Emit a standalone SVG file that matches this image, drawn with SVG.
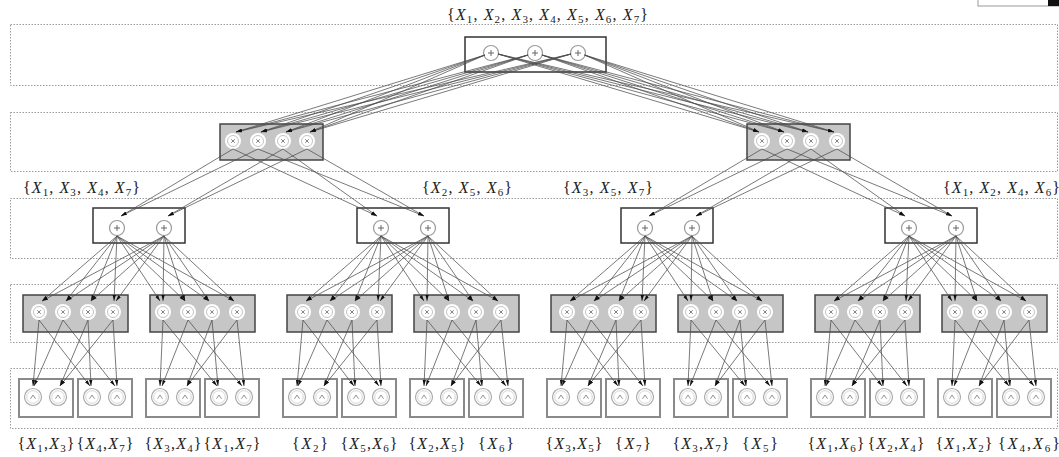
<svg xmlns="http://www.w3.org/2000/svg" width="1059" height="457" viewBox="0 0 1059 457">
<style>
.layer{fill:none;stroke:#9a9a9a;stroke-width:1;stroke-dasharray:1.5 1.5}
.sumbox{fill:#fff;stroke:#333;stroke-width:1.5}
.prodbox{fill:#c6c6c6;stroke:#444;stroke-width:1.5}
.leafbox{fill:#fff;stroke:#8a8a8a;stroke-width:2}
line{stroke:#4d4d4d;stroke-width:0.75;fill:none;marker-end:url(#ah)}
.lb{font-family:"Liberation Serif",serif;font-size:16px;fill:#222}
.v{font-style:italic}
.s{font-size:11px}
</style>
<defs>
<marker id="ah" viewBox="0 0 8 5" refX="8" refY="2.5" markerWidth="6" markerHeight="4" orient="auto" markerUnits="userSpaceOnUse"><path d="M0,0.3 L8,2.5 L0,4.7 Z" fill="#111"/></marker>
<g id="sc"><circle r="7.5" fill="#fff" stroke="#9a9a9a" stroke-width="1.2"/><path d="M-3,0H3M0,-3V3" stroke="#666" stroke-width="1"/></g>
<g id="pc"><circle r="8" fill="#fff"/><circle r="5.5" fill="#fff" stroke="#c4c4c4" stroke-width="1"/><path d="M-1.8,-1.8L1.8,1.8M-1.8,1.8L1.8,-1.8" stroke="#777" stroke-width="0.9"/></g>
<g id="lc"><circle r="8.5" fill="#fff" stroke="#aaa" stroke-width="1.2"/><circle r="6.3" fill="none" stroke="#ccc" stroke-width="0.8"/><path d="M-2.5,1.8L0,-2L2.5,1.8" fill="none" stroke="#888" stroke-width="0.9"/></g>
<g id="sub" stroke="#4d4d4d" stroke-width="0.75" fill="none" marker-end="url(#ah)">
<line x1="117" y1="236" x2="42" y2="301"/><line x1="117" y1="236" x2="66" y2="301"/><line x1="117" y1="236" x2="91" y2="301"/><line x1="117" y1="236" x2="114" y2="301"/>
<line x1="117" y1="236" x2="160" y2="301"/><line x1="117" y1="236" x2="185" y2="301"/><line x1="117" y1="236" x2="209" y2="301"/><line x1="117" y1="236" x2="234" y2="301"/>
<line x1="164" y1="236" x2="42" y2="301"/><line x1="164" y1="236" x2="66" y2="301"/><line x1="164" y1="236" x2="91" y2="301"/><line x1="164" y1="236" x2="116" y2="301"/>
<line x1="164" y1="236" x2="163" y2="301"/><line x1="164" y1="236" x2="185" y2="301"/><line x1="164" y1="236" x2="209" y2="301"/><line x1="164" y1="236" x2="234" y2="301"/>
<line x1="39" y1="320" x2="33" y2="386"/><line x1="39" y1="320" x2="90" y2="386"/>
<line x1="63" y1="320" x2="34" y2="386"/><line x1="63" y1="320" x2="115" y2="386"/>
<line x1="88" y1="320" x2="60" y2="386"/><line x1="88" y1="320" x2="91" y2="386"/>
<line x1="113" y1="320" x2="60" y2="386"/><line x1="113" y1="320" x2="117" y2="386"/>
<line x1="163" y1="320" x2="160" y2="386"/><line x1="163" y1="320" x2="217" y2="386"/>
<line x1="188" y1="320" x2="162" y2="386"/><line x1="188" y1="320" x2="242" y2="386"/>
<line x1="212" y1="320" x2="187" y2="386"/><line x1="212" y1="320" x2="218" y2="386"/>
<line x1="237" y1="320" x2="187" y2="386"/><line x1="237" y1="320" x2="244" y2="386"/>
</g>
</defs>
<rect width="1059" height="457" fill="#fff"/>
<rect x="978" y="-2" width="90" height="8" fill="#fff" stroke="#999"/>
<rect x="1048" y="-2" width="12" height="8" fill="#111"/>
<g id="layers">
<rect class="layer" x="10.5" y="24.5" width="1047" height="61"/>
<rect class="layer" x="10.5" y="112.5" width="1047" height="59"/>
<rect class="layer" x="10.5" y="198.5" width="1047" height="60"/>
<rect class="layer" x="10.5" y="284.5" width="1047" height="58"/>
<rect class="layer" x="10.5" y="368.5" width="1047" height="60"/>
</g>
<g id="n-root"><rect class="sumbox" x="465" y="37" width="141" height="35"/><use href="#sc" x="491" y="53"/><use href="#sc" x="535" y="53"/><use href="#sc" x="578" y="53"/></g>
<g id="n-p2a"><rect class="prodbox" x="220" y="124" width="103" height="36"/><use href="#pc" x="233" y="141"/><use href="#pc" x="258" y="141"/><use href="#pc" x="283" y="141"/><use href="#pc" x="307" y="141"/></g>
<g id="n-p2b"><rect class="prodbox" x="747" y="124" width="103" height="36"/><use href="#pc" x="762" y="141"/><use href="#pc" x="787" y="141"/><use href="#pc" x="811" y="141"/><use href="#pc" x="837" y="141"/></g>
<g id="n-s3a"><rect class="sumbox" x="93" y="208" width="92" height="35"/><use href="#sc" x="117" y="228"/><use href="#sc" x="164" y="228"/></g>
<g id="n-s3b"><rect class="sumbox" x="357" y="208" width="92" height="35"/><use href="#sc" x="381" y="228"/><use href="#sc" x="428" y="228"/></g>
<g id="n-s3c"><rect class="sumbox" x="621" y="208" width="92" height="35"/><use href="#sc" x="645" y="228"/><use href="#sc" x="692" y="228"/></g>
<g id="n-s3d"><rect class="sumbox" x="885" y="208" width="92" height="35"/><use href="#sc" x="909" y="228"/><use href="#sc" x="956" y="228"/></g>
<g id="n-p4a"><rect class="prodbox" x="23" y="295" width="105" height="37"/><use href="#pc" x="39" y="312"/><use href="#pc" x="63" y="312"/><use href="#pc" x="88" y="312"/><use href="#pc" x="113" y="312"/></g>
<g id="n-p4b"><rect class="prodbox" x="150" y="295" width="105" height="37"/><use href="#pc" x="163" y="312"/><use href="#pc" x="188" y="312"/><use href="#pc" x="212" y="312"/><use href="#pc" x="237" y="312"/></g>
<g id="n-p4c"><rect class="prodbox" x="287" y="295" width="105" height="37"/><use href="#pc" x="303" y="312"/><use href="#pc" x="327" y="312"/><use href="#pc" x="352" y="312"/><use href="#pc" x="377" y="312"/></g>
<g id="n-p4d"><rect class="prodbox" x="414" y="295" width="105" height="37"/><use href="#pc" x="427" y="312"/><use href="#pc" x="452" y="312"/><use href="#pc" x="476" y="312"/><use href="#pc" x="501" y="312"/></g>
<g id="n-p4e"><rect class="prodbox" x="551" y="295" width="105" height="37"/><use href="#pc" x="567" y="312"/><use href="#pc" x="591" y="312"/><use href="#pc" x="616" y="312"/><use href="#pc" x="641" y="312"/></g>
<g id="n-p4f"><rect class="prodbox" x="678" y="295" width="105" height="37"/><use href="#pc" x="691" y="312"/><use href="#pc" x="716" y="312"/><use href="#pc" x="740" y="312"/><use href="#pc" x="765" y="312"/></g>
<g id="n-p4g"><rect class="prodbox" x="815" y="295" width="105" height="37"/><use href="#pc" x="831" y="312"/><use href="#pc" x="855" y="312"/><use href="#pc" x="880" y="312"/><use href="#pc" x="905" y="312"/></g>
<g id="n-p4h"><rect class="prodbox" x="942" y="295" width="105" height="37"/><use href="#pc" x="955" y="312"/><use href="#pc" x="980" y="312"/><use href="#pc" x="1004" y="312"/><use href="#pc" x="1029" y="312"/></g>
<g id="n-l01"><rect class="leafbox" x="19" y="379" width="54" height="38"/><use href="#lc" x="33" y="397"/><use href="#lc" x="58" y="397"/></g>
<g id="n-l02"><rect class="leafbox" x="78" y="379" width="54" height="38"/><use href="#lc" x="92" y="397"/><use href="#lc" x="117" y="397"/></g>
<g id="n-l03"><rect class="leafbox" x="146" y="379" width="54" height="38"/><use href="#lc" x="160" y="397"/><use href="#lc" x="185" y="397"/></g>
<g id="n-l04"><rect class="leafbox" x="205" y="379" width="54" height="38"/><use href="#lc" x="219" y="397"/><use href="#lc" x="244" y="397"/></g>
<g id="n-l05"><rect class="leafbox" x="283" y="379" width="54" height="38"/><use href="#lc" x="297" y="397"/><use href="#lc" x="322" y="397"/></g>
<g id="n-l06"><rect class="leafbox" x="342" y="379" width="54" height="38"/><use href="#lc" x="356" y="397"/><use href="#lc" x="381" y="397"/></g>
<g id="n-l07"><rect class="leafbox" x="410" y="379" width="54" height="38"/><use href="#lc" x="424" y="397"/><use href="#lc" x="449" y="397"/></g>
<g id="n-l08"><rect class="leafbox" x="469" y="379" width="54" height="38"/><use href="#lc" x="483" y="397"/><use href="#lc" x="508" y="397"/></g>
<g id="n-l09"><rect class="leafbox" x="547" y="379" width="54" height="38"/><use href="#lc" x="561" y="397"/><use href="#lc" x="586" y="397"/></g>
<g id="n-l10"><rect class="leafbox" x="606" y="379" width="54" height="38"/><use href="#lc" x="620" y="397"/><use href="#lc" x="645" y="397"/></g>
<g id="n-l11"><rect class="leafbox" x="674" y="379" width="54" height="38"/><use href="#lc" x="688" y="397"/><use href="#lc" x="713" y="397"/></g>
<g id="n-l12"><rect class="leafbox" x="733" y="379" width="54" height="38"/><use href="#lc" x="747" y="397"/><use href="#lc" x="772" y="397"/></g>
<g id="n-l13"><rect class="leafbox" x="811" y="379" width="54" height="38"/><use href="#lc" x="825" y="397"/><use href="#lc" x="850" y="397"/></g>
<g id="n-l14"><rect class="leafbox" x="870" y="379" width="54" height="38"/><use href="#lc" x="884" y="397"/><use href="#lc" x="909" y="397"/></g>
<g id="n-l15"><rect class="leafbox" x="938" y="379" width="54" height="38"/><use href="#lc" x="952" y="397"/><use href="#lc" x="977" y="397"/></g>
<g id="n-l16"><rect class="leafbox" x="997" y="379" width="54" height="38"/><use href="#lc" x="1011" y="397"/><use href="#lc" x="1036" y="397"/></g>
<g id="connectors">
<line x1="485" y1="55" x2="236" y2="132"/><line x1="485" y1="55" x2="261" y2="132"/><line x1="485" y1="55" x2="286" y2="132"/><line x1="485" y1="55" x2="310" y2="132"/>
<line x1="498" y1="54" x2="759" y2="132"/><line x1="498" y1="54" x2="784" y2="132"/><line x1="498" y1="54" x2="808" y2="132"/><line x1="498" y1="54" x2="834" y2="132"/>
<line x1="528" y1="55" x2="236" y2="132"/><line x1="528" y1="55" x2="261" y2="132"/><line x1="528" y1="55" x2="286" y2="132"/><line x1="528" y1="55" x2="310" y2="132"/>
<line x1="542" y1="55" x2="759" y2="132"/><line x1="542" y1="55" x2="784" y2="132"/><line x1="542" y1="55" x2="808" y2="132"/><line x1="542" y1="55" x2="834" y2="132"/>
<line x1="571" y1="54" x2="236" y2="132"/><line x1="571" y1="54" x2="261" y2="132"/><line x1="571" y1="54" x2="286" y2="132"/><line x1="571" y1="54" x2="310" y2="132"/>
<line x1="584.5" y1="55" x2="759" y2="132"/><line x1="584.5" y1="55" x2="784" y2="132"/><line x1="584.5" y1="55" x2="808" y2="132"/><line x1="584.5" y1="55" x2="834" y2="132"/>
<line x1="233" y1="149" x2="121" y2="216"/><line x1="233" y1="149" x2="377" y2="216"/>
<line x1="258" y1="149" x2="121" y2="216"/><line x1="258" y1="149" x2="424" y2="216"/>
<line x1="283" y1="149" x2="168" y2="216"/><line x1="283" y1="149" x2="377" y2="216"/>
<line x1="307" y1="149" x2="168" y2="216"/><line x1="307" y1="149" x2="424" y2="216"/>
<line x1="762" y1="149" x2="649" y2="216"/><line x1="762" y1="149" x2="905" y2="216"/>
<line x1="787" y1="149" x2="649" y2="216"/><line x1="787" y1="149" x2="952" y2="216"/>
<line x1="811" y1="149" x2="696" y2="216"/><line x1="811" y1="149" x2="905" y2="216"/>
<line x1="837" y1="149" x2="696" y2="216"/><line x1="837" y1="149" x2="952" y2="216"/>
<use href="#sub" x="0" y="0"/>
<use href="#sub" x="264" y="0"/>
<use href="#sub" x="528" y="0"/>
<use href="#sub" x="792" y="0"/>
</g>
<g id="labels">
<text class="lb" x="447" y="20" textLength="201">{<tspan class="v">X</tspan><tspan class="s" dy="3">1</tspan><tspan dy="-3">, </tspan><tspan class="v">X</tspan><tspan class="s" dy="3">2</tspan><tspan dy="-3">, </tspan><tspan class="v">X</tspan><tspan class="s" dy="3">3</tspan><tspan dy="-3">, </tspan><tspan class="v">X</tspan><tspan class="s" dy="3">4</tspan><tspan dy="-3">, </tspan><tspan class="v">X</tspan><tspan class="s" dy="3">5</tspan><tspan dy="-3">, </tspan><tspan class="v">X</tspan><tspan class="s" dy="3">6</tspan><tspan dy="-3">, </tspan><tspan class="v">X</tspan><tspan class="s" dy="3">7</tspan><tspan dy="-3">}</tspan></text>
<text class="lb" x="23" y="193" textLength="117">{<tspan class="v">X</tspan><tspan class="s" dy="3">1</tspan><tspan dy="-3">, </tspan><tspan class="v">X</tspan><tspan class="s" dy="3">3</tspan><tspan dy="-3">, </tspan><tspan class="v">X</tspan><tspan class="s" dy="3">4</tspan><tspan dy="-3">, </tspan><tspan class="v">X</tspan><tspan class="s" dy="3">7</tspan><tspan dy="-3">}</tspan></text>
<text class="lb" x="422" y="193" textLength="90">{<tspan class="v">X</tspan><tspan class="s" dy="3">2</tspan><tspan dy="-3">, </tspan><tspan class="v">X</tspan><tspan class="s" dy="3">5</tspan><tspan dy="-3">, </tspan><tspan class="v">X</tspan><tspan class="s" dy="3">6</tspan><tspan dy="-3">}</tspan></text>
<text class="lb" x="563" y="193" textLength="90">{<tspan class="v">X</tspan><tspan class="s" dy="3">3</tspan><tspan dy="-3">, </tspan><tspan class="v">X</tspan><tspan class="s" dy="3">5</tspan><tspan dy="-3">, </tspan><tspan class="v">X</tspan><tspan class="s" dy="3">7</tspan><tspan dy="-3">}</tspan></text>
<text class="lb" x="943" y="193" textLength="117">{<tspan class="v">X</tspan><tspan class="s" dy="3">1</tspan><tspan dy="-3">, </tspan><tspan class="v">X</tspan><tspan class="s" dy="3">2</tspan><tspan dy="-3">, </tspan><tspan class="v">X</tspan><tspan class="s" dy="3">4</tspan><tspan dy="-3">, </tspan><tspan class="v">X</tspan><tspan class="s" dy="3">6</tspan><tspan dy="-3">}</tspan></text>
<text class="lb" x="46" y="449" text-anchor="middle" textLength="57">{<tspan class="v">X</tspan><tspan class="s" dy="3">1</tspan><tspan dy="-3">,</tspan><tspan class="v">X</tspan><tspan class="s" dy="3">3</tspan><tspan dy="-3">}</tspan></text>
<text class="lb" x="105" y="449" text-anchor="middle" textLength="57">{<tspan class="v">X</tspan><tspan class="s" dy="3">4</tspan><tspan dy="-3">,</tspan><tspan class="v">X</tspan><tspan class="s" dy="3">7</tspan><tspan dy="-3">}</tspan></text>
<text class="lb" x="173" y="449" text-anchor="middle" textLength="57">{<tspan class="v">X</tspan><tspan class="s" dy="3">3</tspan><tspan dy="-3">,</tspan><tspan class="v">X</tspan><tspan class="s" dy="3">4</tspan><tspan dy="-3">}</tspan></text>
<text class="lb" x="232" y="449" text-anchor="middle" textLength="57">{<tspan class="v">X</tspan><tspan class="s" dy="3">1</tspan><tspan dy="-3">,</tspan><tspan class="v">X</tspan><tspan class="s" dy="3">7</tspan><tspan dy="-3">}</tspan></text>
<text class="lb" x="310" y="449" text-anchor="middle" textLength="36">{<tspan class="v">X</tspan><tspan class="s" dy="3">2</tspan><tspan dy="-3">}</tspan></text>
<text class="lb" x="369" y="449" text-anchor="middle" textLength="57">{<tspan class="v">X</tspan><tspan class="s" dy="3">5</tspan><tspan dy="-3">,</tspan><tspan class="v">X</tspan><tspan class="s" dy="3">6</tspan><tspan dy="-3">}</tspan></text>
<text class="lb" x="437" y="449" text-anchor="middle" textLength="57">{<tspan class="v">X</tspan><tspan class="s" dy="3">2</tspan><tspan dy="-3">,</tspan><tspan class="v">X</tspan><tspan class="s" dy="3">5</tspan><tspan dy="-3">}</tspan></text>
<text class="lb" x="496" y="449" text-anchor="middle" textLength="36">{<tspan class="v">X</tspan><tspan class="s" dy="3">6</tspan><tspan dy="-3">}</tspan></text>
<text class="lb" x="574" y="449" text-anchor="middle" textLength="57">{<tspan class="v">X</tspan><tspan class="s" dy="3">3</tspan><tspan dy="-3">,</tspan><tspan class="v">X</tspan><tspan class="s" dy="3">5</tspan><tspan dy="-3">}</tspan></text>
<text class="lb" x="633" y="449" text-anchor="middle" textLength="36">{<tspan class="v">X</tspan><tspan class="s" dy="3">7</tspan><tspan dy="-3">}</tspan></text>
<text class="lb" x="701" y="449" text-anchor="middle" textLength="57">{<tspan class="v">X</tspan><tspan class="s" dy="3">3</tspan><tspan dy="-3">,</tspan><tspan class="v">X</tspan><tspan class="s" dy="3">7</tspan><tspan dy="-3">}</tspan></text>
<text class="lb" x="760" y="449" text-anchor="middle" textLength="36">{<tspan class="v">X</tspan><tspan class="s" dy="3">5</tspan><tspan dy="-3">}</tspan></text>
<text class="lb" x="836" y="449" text-anchor="middle" textLength="57">{<tspan class="v">X</tspan><tspan class="s" dy="3">1</tspan><tspan dy="-3">,</tspan><tspan class="v">X</tspan><tspan class="s" dy="3">6</tspan><tspan dy="-3">}</tspan></text>
<text class="lb" x="896" y="449" text-anchor="middle" textLength="57">{<tspan class="v">X</tspan><tspan class="s" dy="3">2</tspan><tspan dy="-3">,</tspan><tspan class="v">X</tspan><tspan class="s" dy="3">4</tspan><tspan dy="-3">}</tspan></text>
<text class="lb" x="964" y="449" text-anchor="middle" textLength="57">{<tspan class="v">X</tspan><tspan class="s" dy="3">1</tspan><tspan dy="-3">,</tspan><tspan class="v">X</tspan><tspan class="s" dy="3">2</tspan><tspan dy="-3">}</tspan></text>
<text class="lb" x="998" y="449" textLength="62">{<tspan class="v">X</tspan><tspan class="s" dy="3">4</tspan><tspan dy="-3">,</tspan><tspan class="v">X</tspan><tspan class="s" dy="3">6</tspan><tspan dy="-3">}</tspan></text>
</g>
</svg>
